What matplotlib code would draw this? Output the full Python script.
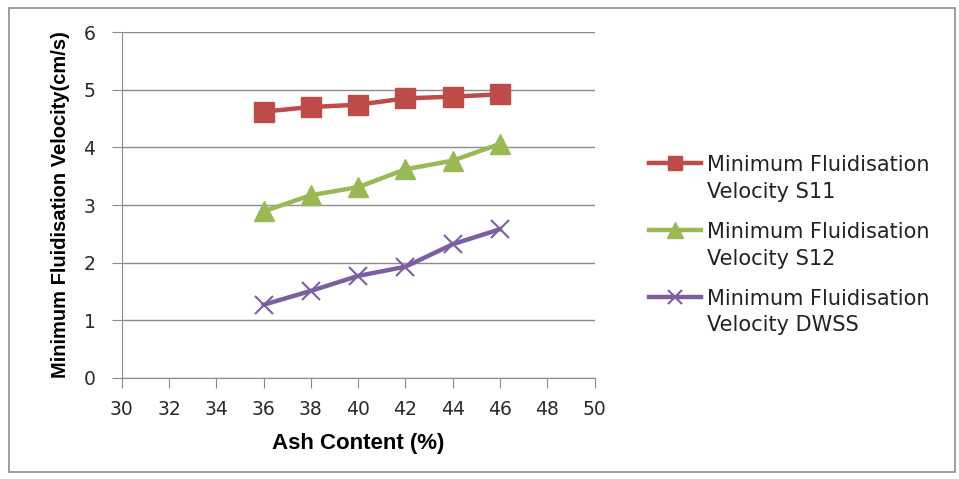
import matplotlib.pyplot as plt
from matplotlib.patches import Rectangle
from matplotlib.text import Annotation

# данные
ash = [36, 38, 40, 42, 44, 46]
s11 = [4.62, 4.70, 4.74, 4.85, 4.88, 4.92]
s12 = [2.89, 3.17, 3.31, 3.62, 3.77, 4.06]
dwss = [1.27, 1.51, 1.77, 1.93, 2.32, 2.58]
label_top = ['Minimum Fluidisation'] * 3
label_bottom = ['Velocity S11', 'Velocity S12', 'Velocity DWSS']

fig = plt.figure(figsize=(9.59, 4.79), dpi=100)
ax = fig.add_axes([0.127, 0.211, 0.493, 0.722])

ax.plot(ash, s11, color='#BE4B48', lw=3.2, marker='s', ms=14, label=label_top[0])
ax.plot(ash, s12, color='#98B954', lw=3.2, marker='^', ms=15, label=label_top[1])
ax.plot(ash, dwss, color='#7D5FA0', lw=3.2, marker='x', ms=13, mew=1.5, label=label_top[2])

ax.set_xlim(30, 50)
ax.set_ylim(0, 6)
ax.set_xticks(range(30, 51, 2))
ax.set_yticks(range(0, 7))
ax.grid(axis='y', color='#8c8c8c', lw=1)
ax.set_axisbelow(True)
for s in ['top', 'right']:
    ax.spines[s].set_visible(False)
for s in ['left', 'bottom']:
    ax.spines[s].set_color('#8c8c8c')
ax.tick_params(colors='#8c8c8c', labelcolor='#2a2a2a', labelsize=13.5, length=7, direction='out')
ax.tick_params(axis='x', pad=9)
ax.tick_params(axis='y', pad=12)

ax.set_xlabel('Ash Content (%)', fontsize=16, fontweight='bold', family='Liberation Sans', labelpad=10)
ax.set_ylabel('Minimum Fluidisation Velocity(cm/s)', fontsize=14.5, fontweight='bold', family='Liberation Sans', labelpad=10)

# легенда: маркер на уровне первой строки, вторая строка подписывается отдельно
leg = fig.legend(loc='upper left', bbox_to_anchor=(0.657, 0.716), frameon=False, fontsize=15,
                 handlelength=2.5, handletextpad=0.3, labelspacing=2.25, markerscale=0.75)
for t, extra in zip(leg.get_texts(), label_bottom):
    t.set_color('#222222')
    a = Annotation(extra, xy=(0, 0), xycoords=t, xytext=(0, -5), textcoords='offset points',
                   fontsize=15, va='top', ha='left', color='#222222', zorder=10)
    fig.add_artist(a)

# рамка вокруг всей диаграммы
fig.patches.append(Rectangle((0.009, 0.015), 0.987, 0.968, transform=fig.transFigure,
                             fill=False, edgecolor='#8c8c8c', lw=1.2))

plt.savefig('out.png', dpi=100)
